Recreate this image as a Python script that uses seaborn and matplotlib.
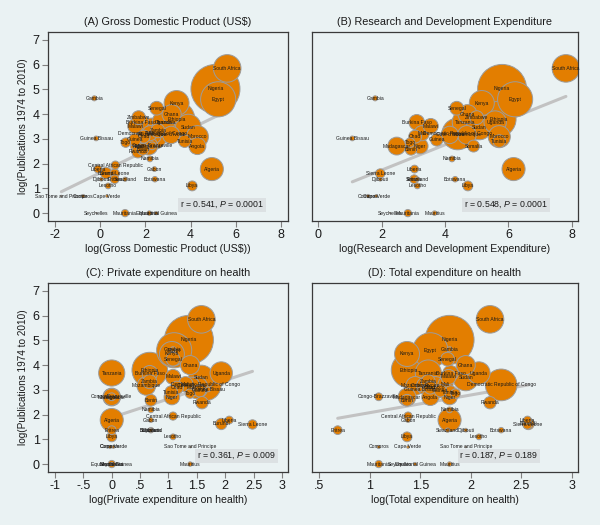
import numpy as np
import pandas as pd
import matplotlib
matplotlib.use("Agg")
import matplotlib.pyplot as plt
import seaborn as sns

nan = np.nan

# country, population (millions, bubble weight), log(publications)
countries = [
    "South Africa", "Nigeria", "Egypt", "Gambia", "Kenya", "Senegal", "Ghana",
    "Zimbabwe", "Ethiopia", "Tanzania", "Uganda", "Burkina Faso", "Malawi",
    "Sudan", "Zambia", "Mali", "Democratic Republic of Congo", "Cote d'Ivoire",
    "Mozambique", "Morocco", "Chad", "Guinea Bissau", "Guinea", "Tunisia",
    "Togo", "Madagascar", "Niger", "Somalia", "Congo-Brazzaville", "Angola",
    "Benin", "Rwanda", "Namibia", "Central African Republic", "Algeria",
    "Liberia", "Gabon", "Burundi", "Sierra Leone", "Eritrea", "Djibouti",
    "Swaziland", "Botswana", "Lesotho", "Libya", "Comoros", "Cape Verde",
    "Sao Tome and Principe", "Seychelles", "Mauritania", "Mauritius",
    "Equatorial Guinea",
]
population = [
    50, 158, 81, 1.7, 41, 12.4, 24,
    12.5, 83, 45, 33, 16, 15,
    43, 13, 15, 66, 20,
    23, 32, 11, 1.5, 10, 10.5,
    6, 21, 16, 9.3, 4, 19,
    9, 10, 2.2, 4.4, 35,
    4, 1.5, 8.4, 5.8, 5, 0.9,
    1.2, 2, 2.2, 6.4, 0.7, 0.5,
    0.17, 0.09, 3.5, 1.3,
    0.7,
]
log_pubs = [
    5.85, 5.02, 4.6, 4.64, 4.45, 4.24, 4.0,
    3.86, 3.8, 3.68, 3.68, 3.67, 3.52,
    3.48, 3.33, 3.23, 3.2, 3.16,
    3.16, 3.09, 3.09, 3.02, 2.96, 2.91,
    2.85, 2.71, 2.71, 2.71, 2.72, 2.71,
    2.58, 2.48, 2.19, 1.94, 1.78,
    1.78, 1.78, 1.62, 1.6, 1.37, 1.37,
    1.37, 1.37, 1.1, 1.1, 0.69, 0.69,
    0.69, 0.0, 0.0, 0.0,
    0.0,
]

# x variables for the four panels
log_gdp = [
    5.62, 5.1, 5.22, -0.26, 3.38, 2.5, 3.16,
    1.7, 3.4, 2.9, 2.8, 1.8, 1.55,
    3.9, 2.55, 2.2, 2.3, 3.14,
    2.3, 4.3, 1.92, -0.18, 1.53, 3.74,
    1.13, 2.15, 1.69, nan, 2.3, 4.3,
    1.89, 1.67, 2.2, 0.67, 4.94,
    -0.1, 2.4, 0.26, 0.64, 0.64, 0.05,
    1.1, 2.42, 0.35, 4.07, -0.75, 0.3,
    -1.72, -0.17, 1.1, 2.17,
    2.48,
]
log_rnd = [
    7.81, 5.8, 6.21, 1.8, 5.16, 4.37, 4.71,
    5.0, 5.68, 4.64, 5.58, 3.11, 3.55,
    5.08, nan, 3.27, 4.4, 4.15,
    4.69, 5.71, 3.06, 1.08, 3.74, 5.71,
    2.9, 2.48, 3.22, 4.9, nan, nan,
    2.93, nan, 4.22, nan, 6.16,
    3.04, nan, nan, 1.96, 3.03, 1.96,
    3.12, 4.32, 3.13, 4.72, 1.58, 1.83,
    nan, 2.27, 2.83, 3.67,
    nan,
]
log_private_health = [
    1.58, 1.36, 1.1, 1.08, 1.06, 1.08, 1.38,
    nan, 0.67, 0.0, 1.93, 0.67, 1.08,
    1.58, 0.67, 1.3, 1.65, 1.4,
    0.61, 1.5, 1.15, 1.7, 1.55, 1.05,
    1.38, 0.0, 1.06, nan, 0.0, 0.0,
    0.69, 1.59, 0.69, 1.08, 0.0,
    2.07, 0.69, 1.93, 2.48, 0.0, 0.69,
    0.69, 0.69, 1.08, 0.0, -0.03, 0.03,
    1.39, 0.0, 0.0, 1.38,
    0.0,
]
log_total_health = [
    2.19, 1.79, 1.6, 1.79, 1.37, 1.77, 1.95,
    nan, 1.39, 1.58, 2.08, 1.8, 1.78,
    1.95, 1.58, 1.75, 2.3, 1.55,
    1.45, 1.65, 1.6, 1.5, 1.7, 1.8,
    1.85, 1.37, 1.79, nan, 1.09, 1.6,
    1.37, 2.19, 1.79, 1.38, 1.79,
    2.56, 1.38, 2.57, 2.56, 0.685, 1.95,
    1.77, 2.3, 2.08, 1.37, 1.09, 1.38,
    1.95, 1.3, 1.09, 1.79,
    1.45,
]

panel_titles = [
    "(A) Gross Domestic Product (US$)",
    "(B) Research and Development Expenditure",
    "(C): Private expenditure on health",
    "(D): Total expenditure on health",
]
x_labels = [
    "log(Gross Domestic Product (US$))",
    "log(Research and Development Expenditure)",
    "log(Private expenditure on health)",
    "log(Total expenditure on health)",
]
y_label = "log(Publications 1974 to 2010)"
r_values = ["0.541", "0.548", "0.361", "0.187"]
p_values = ["0.0001", "0.0001", "0.009", "0.189"]
fit_intercept = [1.63, 0.71, 1.88, 1.36]
fit_slope = [0.445, 0.513, 0.753, 0.716]

x_ticks = [
    [-2, 0, 2, 4, 6, 8],
    [0, 2, 4, 6, 8],
    [-1, -0.5, 0, 0.5, 1, 1.5, 2, 2.5, 3],
    [0.5, 1, 1.5, 2, 2.5, 3],
]
x_tick_labels = [
    ["-2", "0", "2", "4", "6", "8"],
    ["0", "2", "4", "6", "8"],
    ["-1", "-.5", "0", ".5", "1", "1.5", "2", "2.5", "3"],
    [".5", "1", "1.5", "2", "2.5", "3"],
]
y_ticks = [0, 1, 2, 3, 4, 5, 6, 7]

bg = "#EAF2F3"
orange = "#E37E00"
sns.set_style("ticks", {"axes.facecolor": bg, "figure.facecolor": bg})
plt.rcParams["font.family"] = ["Liberation Sans", "DejaVu Sans"]
plt.rcParams["mathtext.fontset"] = "custom"
plt.rcParams["mathtext.rm"] = "Liberation Sans"
plt.rcParams["mathtext.it"] = "Liberation Sans:italic"

df = pd.DataFrame({
    "country": countries, "pop": population, "pubs": log_pubs,
    "gdp": log_gdp, "rnd": log_rnd, "priv": log_private_health,
    "tot": log_total_health,
})
df = df.sort_values("pop", ascending=False)
x_cols = ["gdp", "rnd", "priv", "tot"]

fig = plt.figure(figsize=(6, 5.25), dpi=100)
fig.patch.set_facecolor(bg)
positions = [
    [0.08, 0.579, 0.40, 0.36],
    [0.52, 0.579, 0.4433, 0.36],
    [0.08, 0.101, 0.40, 0.36],
    [0.52, 0.101, 0.4433, 0.36],
]
xlims = [(-2.31, 8.31), (-0.19, 8.19), (-1.123, 3.106), (0.431, 3.059)]
r_pos = [0.90, 0.887, 0.95, 0.85]

for i in range(4):
    ax = fig.add_axes(positions[i])
    ax.set_facecolor(bg)
    d = df.dropna(subset=[x_cols[i]])
    xs = np.array([d[x_cols[i]].min(), d[x_cols[i]].max()])
    sns.lineplot(x=xs, y=fit_intercept[i] + fit_slope[i] * xs, ax=ax,
                 color="#C2C2C2", linewidth=2.2, zorder=1)
    sns.scatterplot(data=d, x=x_cols[i], y="pubs", size="pop",
                    sizes=(0, 1246), size_norm=(0, 158), color=orange,
                    edgecolor="#9C9C9C", linewidth=0.7, legend=False,
                    ax=ax, zorder=2)
    for _, row in d.iterrows():
        ax.text(row[x_cols[i]], row["pubs"], row["country"], ha="center",
                va="center", fontsize=3.6, color="#1a1a1a", zorder=4)
    ax.text(r_pos[i], 0.085, f"r = {r_values[i]}, $P$ = {p_values[i]}",
            transform=ax.transAxes, ha="right", va="center", fontsize=6.3,
            color="#1a1a1a", zorder=5,
            bbox=dict(facecolor="#DCE1E3", edgecolor="none", pad=1.2))
    ax.set_xlim(*xlims[i])
    ax.set_ylim(-0.32, 7.32)
    ax.set_xticks(x_ticks[i])
    ax.set_xticklabels(x_tick_labels[i], fontsize=9)
    ax.set_xlabel(x_labels[i], fontsize=7.6, labelpad=2, color="#1a1a1a")
    ax.set_title(panel_titles[i], fontsize=7.8, pad=5, color="#1a1a1a")
    if i % 2 == 0:
        ax.set_yticks(y_ticks)
        ax.set_yticklabels([str(t) for t in y_ticks], fontsize=9)
        ax.set_ylabel(y_label, fontsize=7.2, labelpad=3, color="#1a1a1a")
    else:
        ax.set_yticks([])
        ax.set_ylabel("")
    ax.tick_params(direction="out", length=4, width=0.8, color="#808080",
                   pad=2, labelcolor="#1a1a1a")
    for s in ax.spines.values():
        s.set_visible(True)
        s.set_color("#3a3a3a")
        s.set_linewidth(0.9)

fig.savefig("out.png", dpi=100, facecolor=bg)
